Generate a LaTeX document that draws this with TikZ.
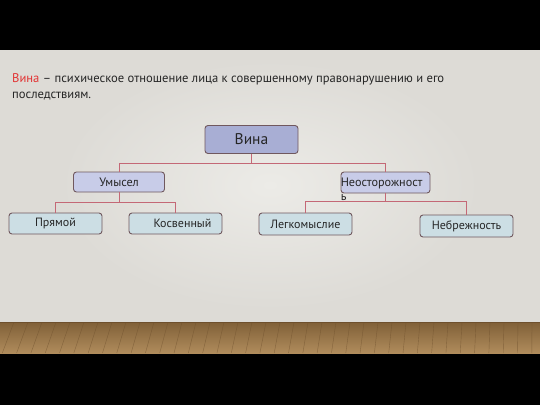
\documentclass[tikz,border=0pt]{standalone}
\usepackage{fontspec}
\setmainfont{PT Sans}
\definecolor{wall}{RGB}{221,219,214}
\definecolor{wallhi}{RGB}{236,235,231}
\definecolor{woodlo}{RGB}{128,96,56}
\definecolor{woodhi}{RGB}{176,140,92}
\definecolor{plank}{RGB}{110,80,45}
\definecolor{rim}{RGB}{112,88,94}
\definecolor{link}{RGB}{196,104,118}
\definecolor{topfill}{RGB}{168,174,212}
\definecolor{midfill}{RGB}{200,204,232}
\definecolor{leaffill}{RGB}{204,222,228}
\definecolor{term}{RGB}{226,52,52}
\begin{document}
\begin{tikzpicture}[x=1pt,y=-1pt,
  box/.style={draw=rim,line width=0.9pt,rounded corners=3pt,inner sep=0pt,text=black!85},
  topbox/.style={box,fill=topfill,minimum width=93pt,minimum height=28pt,font=\fontsize{15.5}{18}\selectfont},
  midbox/.style={box,fill=midfill,minimum width=91pt,minimum height=20pt,font=\fontsize{12.2}{14}\selectfont},
  leafbox/.style={box,fill=leaffill,minimum width=93pt,minimum height=21pt,font=\fontsize{12}{14}\selectfont},
  wire/.style={draw=link,line width=1pt}]
\useasboundingbox (0,0) rectangle (540,405);
% background: black bands, wall and floor
\fill[black] (0,0) rectangle (540,405);
\fill[wall] (0,50) rectangle (540,322);
\shade[inner color=wallhi,outer color=wall] (60,60) rectangle (480,310);
\begin{scope}
\clip (0,322) rectangle (540,353);
\shade[top color=woodlo,bottom color=woodhi] (0,322) rectangle (540,353);
\foreach \x in {0,14,...,560}
  \draw[plank,line width=0.4pt,opacity=0.6] (\x,322) -- (\x-12+\x/45,353);
\end{scope}
\draw[plank,line width=1pt] (0,322) -- (540,322);
% definition
\node[anchor=north west,align=left,inner sep=0pt,font=\fontsize{12.6}{16}\selectfont,text=black!85] (defin) at (12,73)
  {\textcolor{term}{Вина} -- психическое отношение лица к совершенному правонарушению и его\\последствиям.};
% boxes
\node[topbox] (vina) at (251.5,139.5) {Вина};
\node[midbox] (umysel) at (119,182) {Умысел};
\node[midbox,minimum width=89pt,minimum height=21pt] (neo) at (385.5,182.5) {};
\node[anchor=north west,align=left,inner sep=0pt,font=\fontsize{12.2}{14}\selectfont,text=black!85] (neotxt) at (neo.north west) {\rule{0pt}{15pt}Неосторожност\\ь};
\node[leafbox] (pryam) at (55.5,223.5) {Прямой};
\node[leafbox] (kosv) at (175.5,223.5) {\hspace*{14pt}Косвенный};
\node[leafbox,minimum height=22pt] (legk) at (305.5,224) {Легкомыслие};
\node[leafbox,minimum height=22pt] (nebr) at (466.5,226) {Небрежность};
% links
\draw[wire] (vina.south) -- ++(0,9.5) coordinate (busa) -| (umysel.north);
\draw[wire] (busa) -| (neo.north);
\draw[wire] (umysel.south) -- ++(0,10) coordinate (busb) -| (pryam.north);
\draw[wire] (busb) -| (kosv.north);
\draw[wire] (neo.south) -- ++(0,8) coordinate (busc) -| (legk.north);
\draw[wire] (busc) -| (nebr.north);
\end{tikzpicture}
\end{document}
